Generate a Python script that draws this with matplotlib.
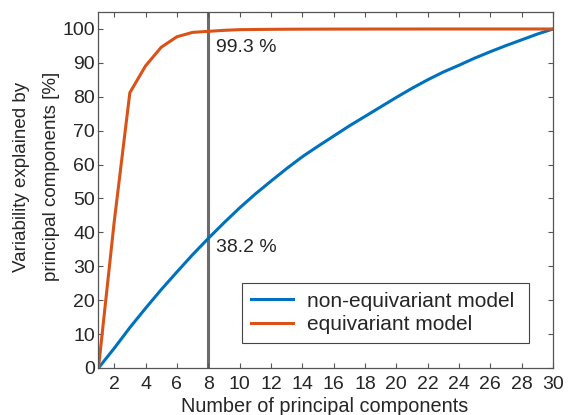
import matplotlib
matplotlib.use("Agg")
import matplotlib.pyplot as plt
import numpy as np

plt.rcParams['font.family'] = ['Liberation Sans', 'DejaVu Sans']

components = list(range(1, 31))
non_equivariant = [0, 5.8, 11.9, 17.6, 23.1, 28.3, 33.4, 38.2, 42.8, 47.2,
                   51.3, 55.1, 58.8, 62.3, 65.4, 68.4, 71.4, 74.2, 77.0, 79.8,
                   82.5, 85.0, 87.3, 89.3, 91.4, 93.3, 95.1, 96.8, 98.5, 100]
equivariant = [0, 43.0, 81.2, 89.1, 94.6, 97.7, 99.0, 99.3, 99.6, 99.8,
               99.85, 99.9, 99.93, 99.95, 99.96, 99.97, 99.98, 99.98, 99.99, 99.99,
               99.99, 100, 100, 100, 100, 100, 100, 100, 100, 100]
marker_x = 8
labels = ["non-equivariant model", "equivariant model"]
xticks = list(range(2, 31, 2))
yticks = list(range(0, 101, 10))

blue = "#0072BD"
orange = "#D95319"
text_c = "#262626"
axis_c = "#555555"

fig = plt.figure(figsize=(5.68, 4.15), dpi=100)
ax = fig.add_axes([0.1734, 0.1133, 0.8002, 0.8577])

ax.axvline(marker_x, color="#6b6b6b", lw=2.2, zorder=1)
ax.plot(components, non_equivariant, color=blue, lw=2.2, label=labels[0], zorder=2)
ax.plot(components, equivariant, color=orange, lw=2.2, label=labels[1], zorder=2)

i = components.index(marker_x)
ax.annotate(f"{equivariant[i]:.1f} %", xy=(marker_x, equivariant[i]),
            xytext=(5.8, -14.6), textcoords="offset points", ha="left", va="baseline",
            fontsize=14, color=text_c)
ax.annotate(f"{non_equivariant[i]:.1f} %", xy=(marker_x, non_equivariant[i]),
            xytext=(5.8, -9.8), textcoords="offset points", ha="left", va="baseline",
            fontsize=14, color=text_c)

ax.set_xlim(1, 30)
ax.set_ylim(0, 105)
ax.set_xticks(xticks)
ax.set_yticks(yticks)
ax.tick_params(direction="in", top=True, right=True, length=3.5, width=0.8,
               colors=axis_c, labelcolor=text_c, labelsize=14)
ax.tick_params(axis="x", pad=5.5)
ax.tick_params(axis="y", pad=2.5)
for s in ax.spines.values():
    s.set_color(axis_c)
    s.set_linewidth(0.9)

ax.set_xlabel("Number of principal components", fontsize=14.3, color=text_c)
ax.xaxis.set_label_coords(0.498, -0.081)
ax.set_ylabel("Variability explained by\nprincipal components [%]", fontsize=13.5,
              color=text_c, linespacing=2.0)
ax.yaxis.set_label_coords(-0.085, 0.537)

leg = ax.legend(loc="lower left", bbox_to_anchor=(0.316, 0.070, 0.631, 0.166),
                mode="expand", fontsize=15,
                frameon=True, fancybox=False, edgecolor="#444444", framealpha=1,
                handlelength=2.0, handletextpad=0.7, borderpad=0.42, labelspacing=0.22,
                borderaxespad=0)
leg.get_frame().set_linewidth(0.8)
for t in leg.get_texts():
    t.set_color(text_c)

fig.savefig("out.png", dpi=100)
